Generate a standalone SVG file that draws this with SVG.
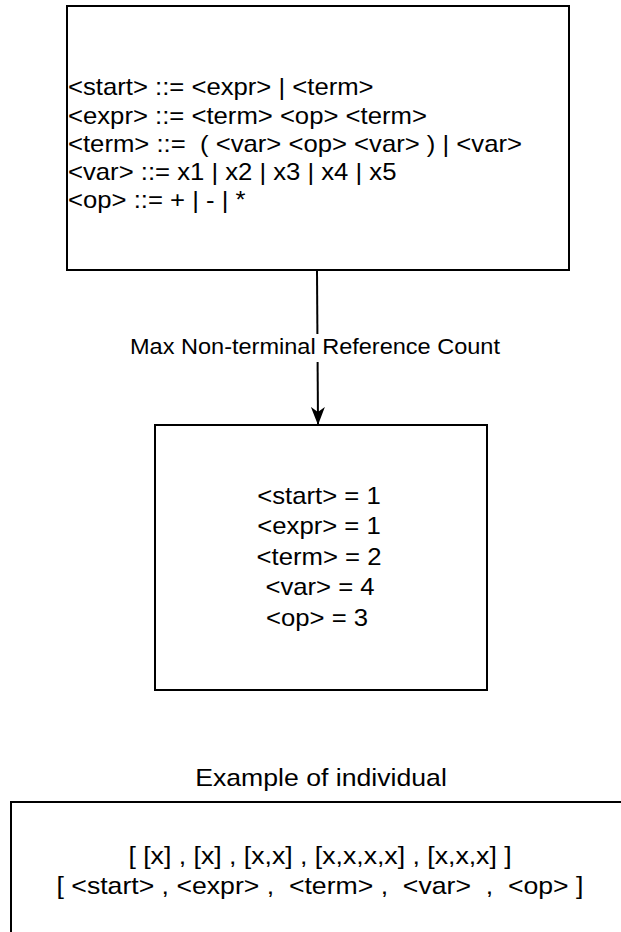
<svg xmlns="http://www.w3.org/2000/svg" width="621" height="932" viewBox="0 0 621 932">
  <style>
    .box { fill: #ffffff; stroke: #000000; stroke-width: 2; }
    .txt { font-family: "Liberation Sans", Arial, sans-serif; font-size: 24px; fill: #000000; }
    .lbl { font-family: "Liberation Sans", Arial, sans-serif; font-size: 22px; fill: #000000; text-anchor: middle; }
    .mid { text-anchor: middle; }
    .edge { stroke: #000000; stroke-width: 2; fill: none; }
  </style>
  <defs>
    <marker id="arrow" viewBox="0 0 18 14" refX="17" refY="7" markerWidth="18" markerHeight="14" markerUnits="userSpaceOnUse" orient="auto">
      <path d="M0,0 L18,7 L0,14 L5,7 Z" fill="#000000"/>
    </marker>
  </defs>
  <rect width="621" height="932" fill="#ffffff"/>

  <!-- grammar rules -->
  <g id="grammar">
    <rect class="box" x="67" y="6" width="502" height="264"/>
    <text class="txt" transform="translate(68 95) scale(1.07 1)">&lt;start&gt; ::= &lt;expr&gt; | &lt;term&gt;</text>
    <text class="txt" transform="translate(68 123.5) scale(1.07 1)">&lt;expr&gt; ::= &lt;term&gt; &lt;op&gt; &lt;term&gt;</text>
    <text class="txt" transform="translate(68 152) scale(1.07 1)" xml:space="preserve">&lt;term&gt; ::=  ( &lt;var&gt; &lt;op&gt; &lt;var&gt; ) | &lt;var&gt;</text>
    <text class="txt" transform="translate(68 180) scale(1.07 1)">&lt;var&gt; ::= x1 | x2 | x3 | x4 | x5</text>
    <text class="txt" transform="translate(68 208) scale(1.07 1)">&lt;op&gt; ::= + | - | *</text>
  </g>

  <!-- grammar -> counts -->
  <g id="connectors">
    <path class="edge" d="M317,271 L318,424" marker-end="url(#arrow)"/>
    <rect x="128" y="334" width="376" height="28" fill="#ffffff"/>
    <text class="lbl" transform="translate(315 354) scale(1.07 1)">Max Non-terminal Reference Count</text>
  </g>

  <!-- reference counts -->
  <g id="counts">
    <rect class="box" x="155" y="425" width="332" height="265"/>
    <text class="txt mid" transform="translate(319 504) scale(1.07 1)">&lt;start&gt; = 1</text>
    <text class="txt mid" transform="translate(319 534) scale(1.07 1)">&lt;expr&gt; = 1</text>
    <text class="txt mid" transform="translate(319 564.5) scale(1.07 1)">&lt;term&gt; = 2</text>
    <text class="txt mid" transform="translate(320 595) scale(1.07 1)">&lt;var&gt; = 4</text>
    <text class="txt mid" transform="translate(317 625.5) scale(1.07 1)">&lt;op&gt; = 3</text>
  </g>

  <g id="individual-title">
    <text class="txt mid" transform="translate(321 786) scale(1.11 1)">Example of individual</text>
  </g>

  <!-- example individual -->
  <g id="individual">
    <path class="box" d="M11,940 L11,802 L630,802"/>
    <text class="txt mid" transform="translate(320 864) scale(1.11 1)">[ [x] , [x] , [x,x] , [x,x,x,x] , [x,x,x] ]</text>
    <text class="txt mid" transform="translate(320 894) scale(1.11 1)" xml:space="preserve">[ &lt;start&gt; , &lt;expr&gt; ,  &lt;term&gt; ,  &lt;var&gt;  ,  &lt;op&gt; ]</text>
  </g>
</svg>
